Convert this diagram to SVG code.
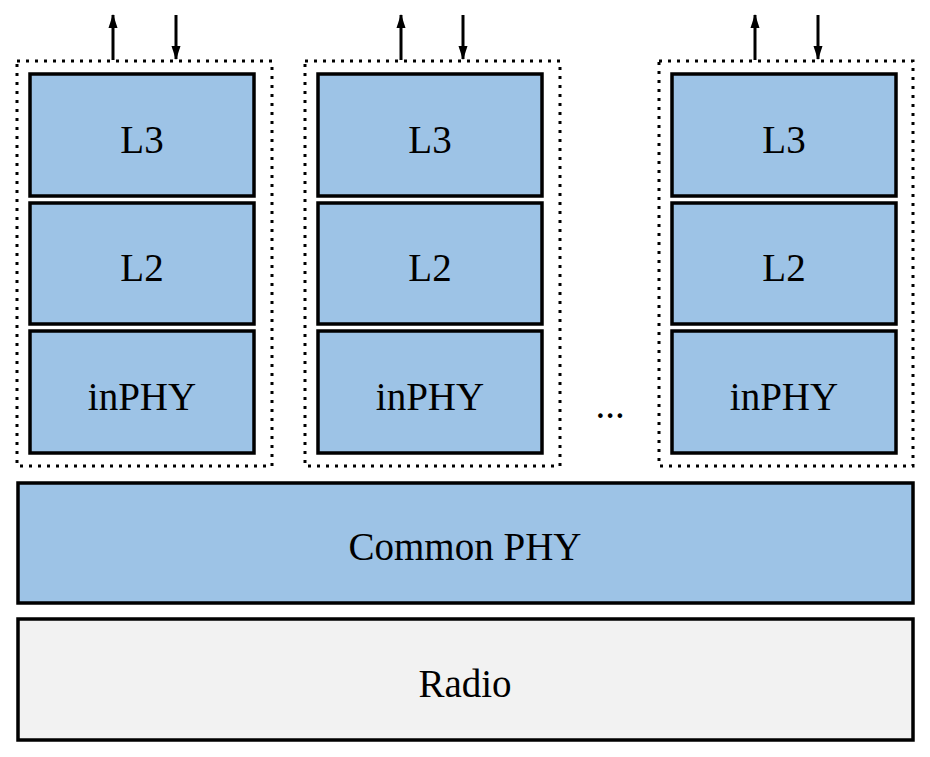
<svg xmlns="http://www.w3.org/2000/svg" width="930" height="757" viewBox="0 0 930 757">
<defs>
<style>
.blk{fill:#9DC3E6;stroke:#000;stroke-width:3.5}
.radio{fill:#F2F2F2;stroke:#000;stroke-width:3.5}
.grp{fill:none;stroke:#000;stroke-width:3;stroke-dasharray:3 6}
.t{font-family:"Liberation Serif","Times New Roman",serif;font-size:39px;fill:#000;text-anchor:middle;dominant-baseline:central}
.c{stroke:#000;stroke-width:3;fill:none}
</style>
<marker id="ah" viewBox="0 0 14 10" refX="13" refY="5" markerWidth="14" markerHeight="10" orient="auto" markerUnits="userSpaceOnUse">
<path d="M0,0.5 L14,5 L0,9.5 z" fill="#000"/>
</marker>
</defs>
<rect width="930" height="757" fill="#fff"/>
<g id="stack1">
<rect class="grp" x="17" y="61" width="255" height="405"/>
<g id="s1-l3"><rect class="blk" x="30" y="74" width="224" height="122"/><text class="t" x="142" y="139">L3</text></g>
<g id="s1-l2"><rect class="blk" x="30" y="203" width="224" height="121"/><text class="t" x="142" y="267">L2</text></g>
<g id="s1-inphy"><rect class="blk" x="30" y="331" width="224" height="122"/><text class="t" x="142" y="396">inPHY</text></g>
</g>
<g id="stack2">
<rect class="grp" x="305" y="61" width="255" height="405"/>
<g id="s2-l3"><rect class="blk" x="318" y="74" width="224" height="122"/><text class="t" x="430" y="139">L3</text></g>
<g id="s2-l2"><rect class="blk" x="318" y="203" width="224" height="121"/><text class="t" x="430" y="267">L2</text></g>
<g id="s2-inphy"><rect class="blk" x="318" y="331" width="224" height="122"/><text class="t" x="430" y="396">inPHY</text></g>
</g>
<g id="ellipsis"><text class="t" x="610" y="404">...</text></g>
<g id="stack3">
<rect class="grp" x="659" y="61" width="254" height="405"/>
<g id="s3-l3"><rect class="blk" x="672" y="74" width="224" height="122"/><text class="t" x="784" y="139">L3</text></g>
<g id="s3-l2"><rect class="blk" x="672" y="203" width="224" height="121"/><text class="t" x="784" y="267">L2</text></g>
<g id="s3-inphy"><rect class="blk" x="672" y="331" width="224" height="122"/><text class="t" x="784" y="396">inPHY</text></g>
</g>
<g id="common-phy"><rect class="blk" x="18" y="483" width="895" height="120"/><text class="t" x="465" y="546">Common PHY</text></g>
<g id="radio"><rect class="radio" x="18" y="619" width="895" height="121"/><text class="t" x="465" y="683">Radio</text></g>
<g id="connectors">
<line class="c" x1="113" y1="60" x2="113" y2="15" marker-end="url(#ah)"/>
<line class="c" x1="176" y1="15" x2="176" y2="59" marker-end="url(#ah)"/>
<line class="c" x1="401" y1="60" x2="401" y2="15" marker-end="url(#ah)"/>
<line class="c" x1="463" y1="15" x2="463" y2="59" marker-end="url(#ah)"/>
<line class="c" x1="755" y1="60" x2="755" y2="15" marker-end="url(#ah)"/>
<line class="c" x1="818" y1="15" x2="818" y2="59" marker-end="url(#ah)"/>
</g>
</svg>
